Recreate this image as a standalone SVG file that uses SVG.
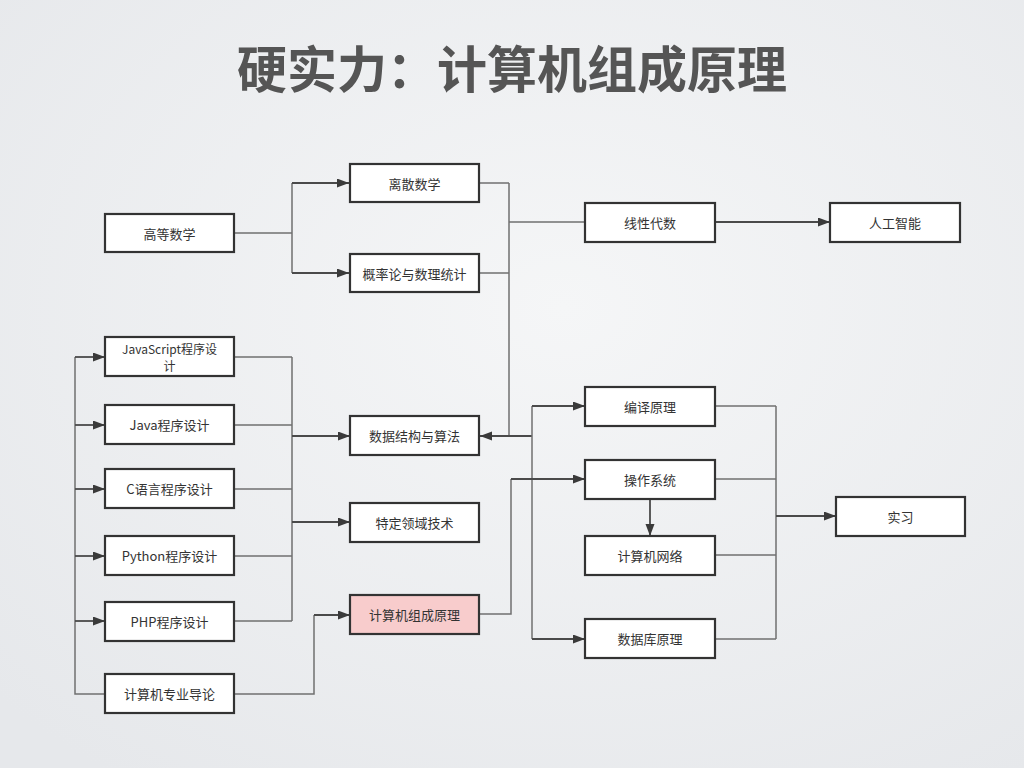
<svg xmlns="http://www.w3.org/2000/svg" width="1024" height="768" viewBox="0 0 1024 768">
<defs>
<radialGradient id="bg" cx="55%" cy="40%" r="75%">
<stop offset="0" stop-color="#f5f6f7"/>
<stop offset="1" stop-color="#e6e8eb"/>
</radialGradient>
<marker id="arr" markerUnits="userSpaceOnUse" markerWidth="13" markerHeight="10" refX="12" refY="4.5" orient="auto">
<path d="M0,0 L12,4.5 L0,9 z" fill="#3a3a3a"/>
</marker>
<style>
.box{fill:#ffffff;stroke:#333333;stroke-width:2.2}
.hl{fill:#f8cccc}
.t{font-family:"Noto Sans CJK SC","Noto Sans",sans-serif;font-size:13px;fill:#333333;text-anchor:middle;dominant-baseline:central}
.sm{font-size:12px}
.ln{fill:none;stroke:#707070;stroke-width:1.5}
.ar{fill:none;stroke:#4a4a4a;stroke-width:1.8;marker-end:url(#arr)}
.title{font-family:"Noto Sans CJK SC",sans-serif;font-size:50px;font-weight:bold;fill:#555555;text-anchor:middle}
</style>
</defs>
<rect width="1024" height="768" fill="url(#bg)"/>
<text class="title" x="512" y="88">硬实力：计算机组成原理</text>
<g id="connectors">
<path class="ln" d="M234,233 H292 M292,183 V273"/>
<path class="ar" d="M292,183 H349"/>
<path class="ar" d="M292,273 H349"/>
<path class="ln" d="M479,183 H509 M479,273 H509 M509,183 V436 M509,222 H585"/>
<path class="ar" d="M532,436 H480"/>
<path class="ar" d="M715,222 H830"/>
<path class="ln" d="M532,406 V639"/>
<path class="ar" d="M532,406 H585"/>
<path class="ar" d="M532,639 H585"/>
<path class="ln" d="M479,614 H511 V479"/>
<path class="ar" d="M511,479 H585"/>
<path class="ar" d="M650,499 V536"/>
<path class="ln" d="M715,406 H776 M715,479 H776 M715,555 H776 M715,639 H776 M776,406 V639"/>
<path class="ar" d="M776,516 H836"/>
<path class="ln" d="M105,694 H75 V357"/>
<path class="ar" d="M75,357 H105"/>
<path class="ar" d="M75,425 H105"/>
<path class="ar" d="M75,489 H105"/>
<path class="ar" d="M75,556 H105"/>
<path class="ar" d="M75,621 H105"/>
<path class="ln" d="M234,357 H292 M234,425 H292 M234,489 H292 M234,556 H292 M234,621 H292 M292,357 V621"/>
<path class="ar" d="M292,436 H350"/>
<path class="ar" d="M292,522 H350"/>
<path class="ln" d="M234,694 H314 V615"/>
<path class="ar" d="M314,615 H350"/>
</g>
<g id="n_gdsx"><rect class="box" x="105" y="214" width="129" height="38"/><text class="t" x="169.5" y="233">高等数学</text></g>
<g id="n_lssx"><rect class="box" x="350" y="164" width="129" height="38"/><text class="t" x="414.5" y="183">离散数学</text></g>
<g id="n_gll"><rect class="box" x="350" y="254" width="129" height="38"/><text class="t" x="414.5" y="273">概率论与数理统计</text></g>
<g id="n_xxds"><rect class="box" x="585" y="203" width="130" height="39"/><text class="t" x="650" y="222">线性代数</text></g>
<g id="n_rgzn"><rect class="box" x="830" y="203" width="130" height="39"/><text class="t" x="895" y="222">人工智能</text></g>
<g id="n_js"><rect class="box" x="105" y="337" width="129" height="39"/><text class="t sm" x="169.5" y="347.5"><tspan x="169.5" y="347.5">JavaScript程序设</tspan><tspan x="169.5" y="365">计</tspan></text></g>
<g id="n_java"><rect class="box" x="105" y="405" width="129" height="39"/><text class="t" x="169.5" y="424.5">Java程序设计</text></g>
<g id="n_c"><rect class="box" x="105" y="469" width="129" height="39"/><text class="t" x="169.5" y="488.5">C语言程序设计</text></g>
<g id="n_py"><rect class="box" x="105" y="536" width="129" height="39"/><text class="t" x="169.5" y="555.5">Python程序设计</text></g>
<g id="n_php"><rect class="box" x="105" y="602" width="129" height="39"/><text class="t" x="169.5" y="621.5">PHP程序设计</text></g>
<g id="n_dl"><rect class="box" x="105" y="674" width="129" height="39"/><text class="t" x="169.5" y="693.5">计算机专业导论</text></g>
<g id="n_sjjg"><rect class="box" x="350" y="416" width="129" height="39"/><text class="t" x="414.5" y="435.5">数据结构与算法</text></g>
<g id="n_tdly"><rect class="box" x="350" y="503" width="129" height="39"/><text class="t" x="414.5" y="522.5">特定领域技术</text></g>
<g id="n_jz"><rect class="box hl" x="350" y="595" width="129" height="39"/><text class="t" x="414.5" y="614.5">计算机组成原理</text></g>
<g id="n_by"><rect class="box" x="585" y="387" width="130" height="39"/><text class="t" x="650" y="406.5">编译原理</text></g>
<g id="n_cz"><rect class="box" x="585" y="460" width="130" height="39"/><text class="t" x="650" y="479.5">操作系统</text></g>
<g id="n_wl"><rect class="box" x="585" y="536" width="130" height="39"/><text class="t" x="650" y="555.5">计算机网络</text></g>
<g id="n_sjk"><rect class="box" x="585" y="619" width="130" height="39"/><text class="t" x="650" y="638.5">数据库原理</text></g>
<g id="n_sx"><rect class="box" x="836" y="497" width="129" height="39"/><text class="t" x="900.5" y="516.5">实习</text></g>
</svg>
